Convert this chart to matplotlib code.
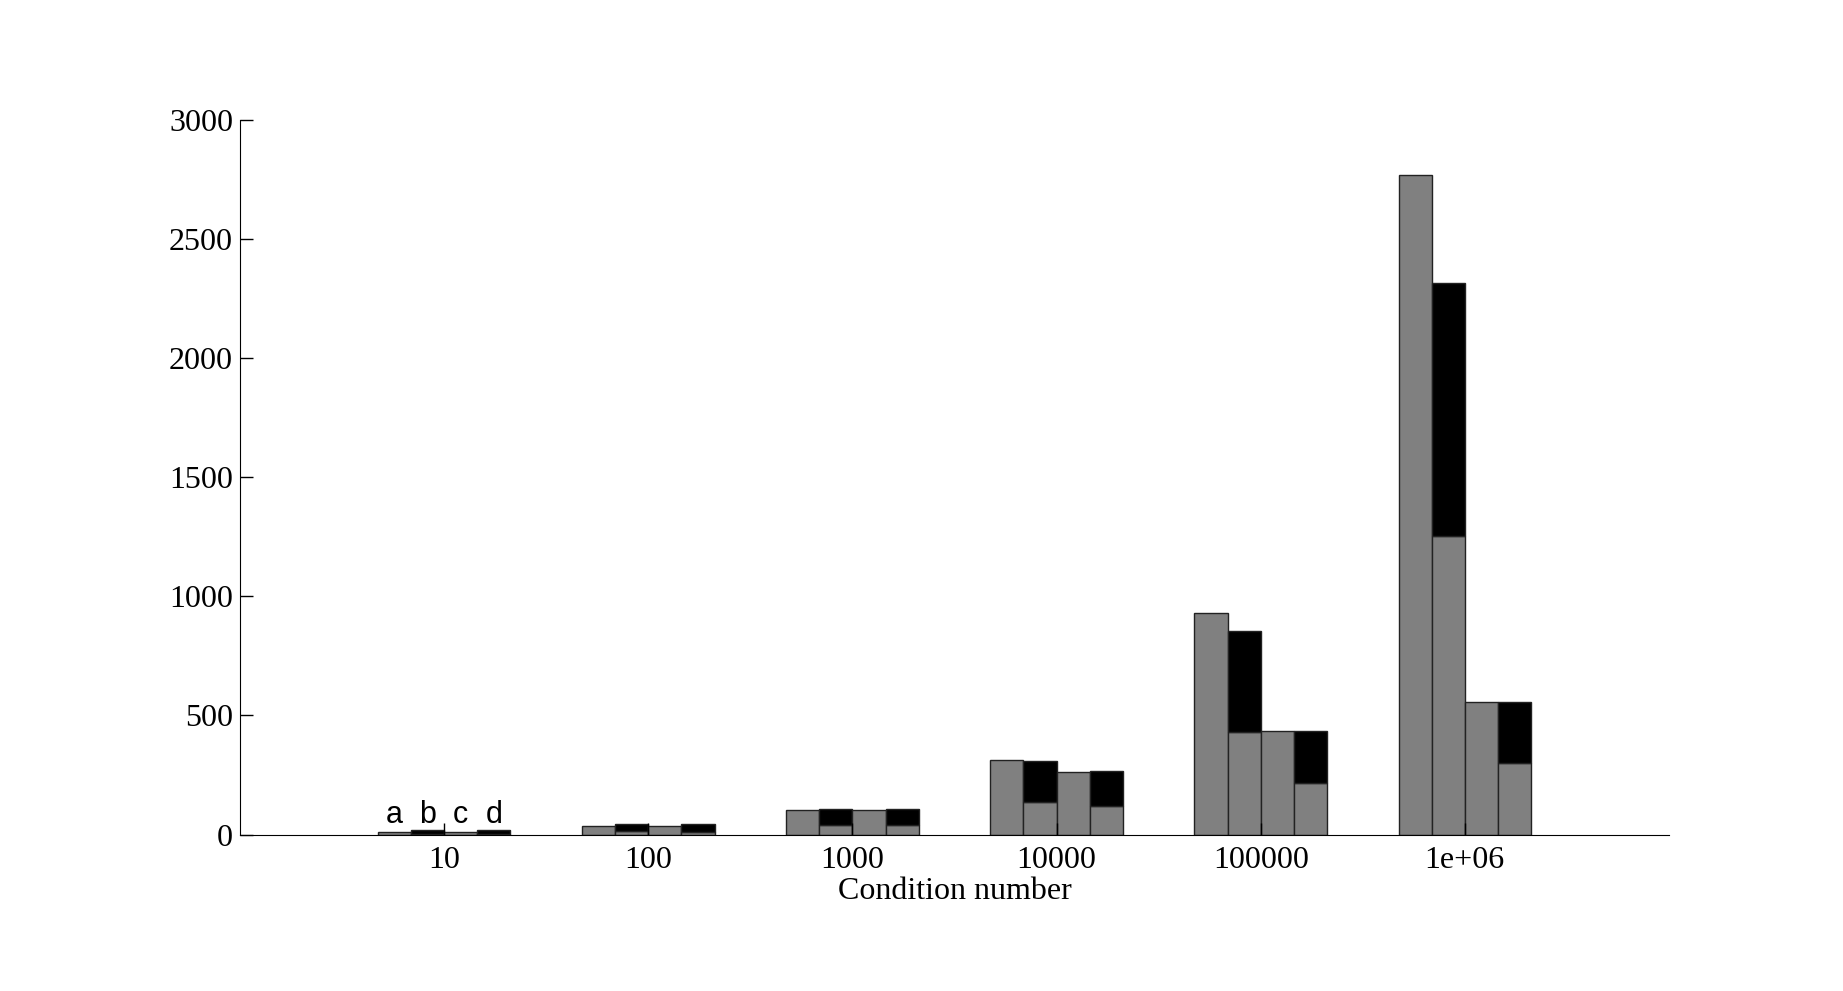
import numpy as np
import matplotlib
matplotlib.use('Agg')
from matplotlib import pyplot as plt


groups = ['10', '100', '1000', '10000', '100000', '1e+06']

# bar a and c: single gray bars
a_vals = [10, 34, 101, 314, 932, 2768]
c_vals = [10, 34, 101, 262, 434, 557]

# bar b and d: gray part at the bottom, black part stacked above
b_gray = [3, 13, 39, 136, 429, 1253]
b_total = [20, 45, 109, 308, 854, 2314]
d_gray = [3, 9, 39, 118, 217, 301]
d_total = [20, 44, 109, 266, 434, 557]

bar_labels = ['a', 'b', 'c', 'd']

fig = plt.figure(figsize=(18.43, 9.91), dpi=100)
ax = fig.add_axes([240 / 1843, 1 - 834.5 / 991, (1669 - 240) / 1843, (834.5 - 120) / 991])

x = np.arange(1, len(groups) + 1)
w = 0.1625
offs = [-1.5 * w, -0.5 * w, 0.5 * w, 1.5 * w]
gray = '#808080'
edge = '#222222'
lw = 1.0

ax.bar(x + offs[0], a_vals, w, color=gray, edgecolor=edge, linewidth=lw)
ax.bar(x + offs[1], b_gray, w, color=gray, edgecolor=edge, linewidth=lw)
ax.bar(x + offs[1], np.array(b_total) - np.array(b_gray), w, bottom=b_gray,
       color='black', edgecolor=edge, linewidth=lw)
ax.bar(x + offs[2], c_vals, w, color=gray, edgecolor=edge, linewidth=lw)
ax.bar(x + offs[3], d_gray, w, color=gray, edgecolor=edge, linewidth=lw)
ax.bar(x + offs[3], np.array(d_total) - np.array(d_gray), w, bottom=d_gray,
       color='black', edgecolor=edge, linewidth=lw)

# letters above the first group
for o, lab in zip(offs, bar_labels):
    ax.text(1 + o, 18, lab, ha='center', va='bottom', fontsize=22,
            family='Liberation Sans')

ax.set_xlim(0, 7)
ax.set_ylim(0, 3000)
ax.set_xticks(x)
ax.set_xticklabels(groups)
ax.set_yticks([0, 500, 1000, 1500, 2000, 2500, 3000])

for lab in ax.get_xticklabels() + ax.get_yticklabels():
    lab.set_family('Liberation Serif')
    lab.set_fontsize(23)

ax.tick_params(direction='in', length=9, width=1)
ax.tick_params(axis='x', pad=8)
ax.tick_params(axis='y', pad=5)
ax.spines['top'].set_visible(False)
ax.spines['right'].set_visible(False)

ax.set_xlabel('Condition number', family='Liberation Serif', fontsize=23, labelpad=2)

fig.savefig('out.png', dpi=100)
